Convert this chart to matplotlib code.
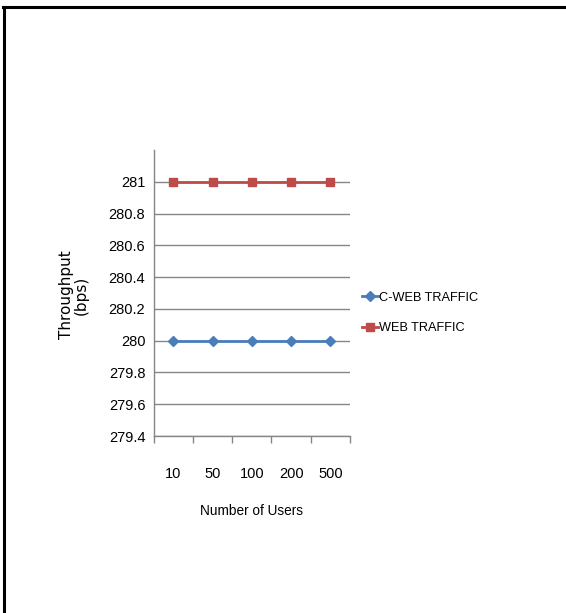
import matplotlib
matplotlib.use("Agg")
import matplotlib.pyplot as plt
from matplotlib.lines import Line2D
from matplotlib import font_manager

categories = ["10", "50", "100", "200", "500"]
c_web = [280, 280, 280, 280, 280]
web = [281, 281, 281, 281, 281]
yticks = [279.4, 279.6, 279.8, 280, 280.2, 280.4, 280.6, 280.8, 281]

names = {f.name for f in font_manager.fontManager.ttflist}
narrow = "Liberation Sans Narrow" if "Liberation Sans Narrow" in names else "Liberation Sans"
txt_size = 10.5 if narrow == "Liberation Sans Narrow" else 9.2

W, H = 566, 613
fig = plt.figure(figsize=(W / 100, H / 100), dpi=100)

def fx(px):
    return px / W

def fy(py):
    return 1 - py / H

# outer border (top and left only)
fig.add_artist(Line2D([fx(3), fx(566)], [fy(6.5), fy(6.5)], color="black", lw=2.2))
fig.add_artist(Line2D([fx(4), fx(4)], [fy(6.5), fy(613)], color="black", lw=2.2))

ax = fig.add_axes([fx(153.7), fy(436), fx(350) - fx(153.7), fy(150) - fy(436)])
x = list(range(len(categories)))
blue = "#4A7EBB"
red = "#BE4B48"
ax.plot(x, c_web, color=blue, lw=2, marker="D", ms=5, label="C-WEB TRAFFIC")
ax.plot(x, web, color=red, lw=2, marker="s", ms=6, label="WEB TRAFFIC")

ax.set_ylim(279.4, 281.2)
ax.set_xlim(-0.5, len(categories) - 0.5)
ax.set_yticks(yticks)
ax.set_yticklabels([f"{v:g}" for v in yticks], fontfamily=narrow, fontsize=10.5)
ax.set_xticks(x)
ax.set_xticklabels(categories, fontfamily=narrow, fontsize=10.5)
ax.set_xticks([i - 0.5 for i in range(len(categories) + 1)], minor=True)
ax.tick_params(axis="x", which="major", length=0, pad=22)
ax.tick_params(axis="x", which="minor", length=5, color="#868686", width=1)
ax.tick_params(axis="y", length=0, pad=6)
ax.grid(axis="y", color="#868686", lw=1)
ax.set_axisbelow(True)
for s in ["top", "right"]:
    ax.spines[s].set_visible(False)
for s in ["left", "bottom"]:
    ax.spines[s].set_color("#868686")
    ax.spines[s].set_linewidth(1)

ax.set_xlabel("Number of Users", fontfamily=narrow, fontsize=txt_size + 0.6, labelpad=17)
fig.text(fx(73.5), fy(295), "Throughput\n(bps)", rotation=90, ha="center", va="center",
         fontfamily="DejaVu Sans", fontsize=11, linespacing=1.0)

fig.legend(loc="center left", bbox_to_anchor=(fx(350), fy(313)), frameon=False,
           prop={"family": narrow, "size": txt_size}, handlelength=1.3, handletextpad=0.1,
           labelspacing=1.45)

fig.savefig("out.png", dpi=100)
